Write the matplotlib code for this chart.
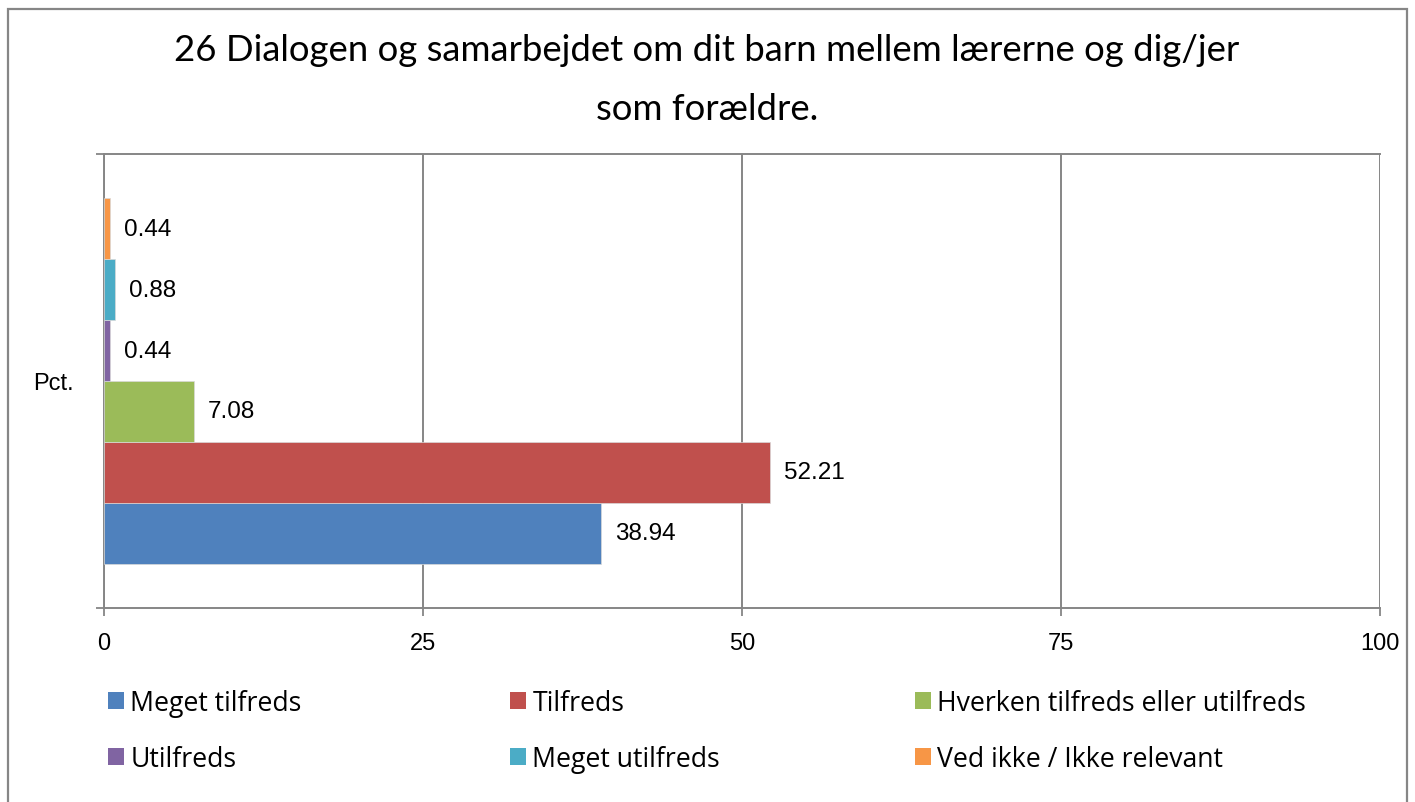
import matplotlib
matplotlib.use("Agg")
import matplotlib.pyplot as plt
from matplotlib.patches import Rectangle, Patch

# ---- data ----
series = ["Meget tilfreds", "Tilfreds", "Hverken tilfreds eller utilfreds",
          "Utilfreds", "Meget utilfreds", "Ved ikke / Ikke relevant"]
values = [38.94, 52.21, 7.08, 0.44, 0.88, 0.44]
colors = ["#4F81BD", "#C0504D", "#9BBB59", "#8064A2", "#4BACC6", "#F79646"]
category = ["Pct."]
xticks = [0, 25, 50, 75, 100]
title = "26 Dialogen og samarbejdet om dit barn mellem lærerne og dig/jer\nsom forældre."

W, H = 1415, 803
fig = plt.figure(figsize=(W / 100, H / 100), dpi=100)
fig.patch.set_facecolor("white")

gray = "#868686"

# outer chart border
fig.add_artist(Rectangle((8 / W, -0.1), (1407 - 8) / W, 1.1 - 10 / H,
                         transform=fig.transFigure, fill=False,
                         edgecolor=gray, linewidth=1.6))

ax = fig.add_axes([104 / W, 1 - 609 / H, (1380 - 104) / W, (609 - 155) / H])

n = len(series)
h = 0.134
for i, (name, v, c) in enumerate(zip(series, values, colors)):
    y = (i - (n - 1) / 2) * h
    ax.barh(y, v, height=h, color=c, edgecolor="#d9d9d9", linewidth=0.5,
            label=name, zorder=3)
    ax.annotate(f"{v:.2f}", xy=(v, y), xytext=(10, 0), textcoords="offset points",
                va="center", ha="left", fontsize=17.5, family="Liberation Sans",
                color="black", zorder=4)

ax.set_xlim(0, 100)
ax.set_ylim(-0.5, 0.5)
ax.set_xticks(xticks)
ax.set_xticklabels([str(t) for t in xticks], fontsize=17, family="Liberation Sans")
ax.tick_params(axis="x", length=6, width=1.3, color=gray, pad=11)
ax.set_yticks([-0.5, 0.5])
ax.set_yticklabels(["", ""])
ax.tick_params(axis="y", which="major", length=6, width=1.3, color=gray)
ax.set_yticks([0], minor=True)
ax.set_yticklabels(category, minor=True, fontsize=17, family="Liberation Sans")
ax.tick_params(axis="y", which="minor", length=0, pad=22)

ax.grid(axis="x", color=gray, linewidth=1.4, zorder=0)
ax.set_axisbelow(True)
for s in ax.spines.values():
    s.set_color(gray)
    s.set_linewidth(1.4)
ax.spines["right"].set_visible(False)

fig.text(707 / W, 1 - 80 / H, title, ha="center", va="center", fontsize=26.3,
         family="Lato", linespacing=1.95)

# legend: three columns, row-major order as in the reference
handles = [Patch(facecolor=c, edgecolor="none") for c in colors]
col_x = [97, 499, 904]
for k in range(3):
    idx = [k, k + 3]
    fig.legend([handles[j] for j in idx], [series[j] for j in idx],
               loc="upper left", bbox_to_anchor=(col_x[k] / W, 1 - 679 / H),
               frameon=False, handlelength=0.6, handleheight=0.6,
               handletextpad=0.25, labelspacing=1.06, borderaxespad=0,
               prop={"family": "Open Sans", "size": 19.2})

fig.savefig("out.png", dpi=100, facecolor="white")
